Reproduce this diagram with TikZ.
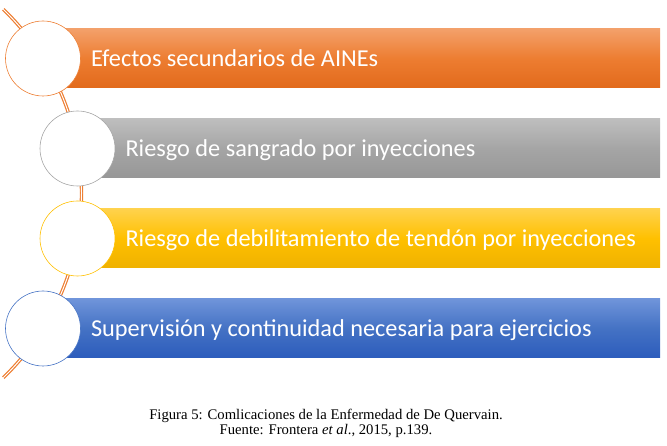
\documentclass[tikz,border=0pt]{standalone}
\usepackage{fontspec}
\setmainfont{Liberation Serif}
\newfontfamily\barfont{Carlito}
\definecolor{naranja}{HTML}{ED7D31}
\definecolor{naranjaA}{HTML}{F3A06A}
\definecolor{naranjaB}{HTML}{E26A1C}
\definecolor{gris}{HTML}{A5A5A5}
\definecolor{grisA}{HTML}{BEBEBE}
\definecolor{grisB}{HTML}{979797}
\definecolor{oro}{HTML}{FFC000}
\definecolor{oroA}{HTML}{FFD24C}
\definecolor{oroB}{HTML}{EFB100}
\definecolor{azul}{HTML}{4472C4}
\definecolor{azulA}{HTML}{6F94DA}
\definecolor{azulB}{HTML}{2C5CBC}
\begin{document}
\begin{tikzpicture}[x=1pt, y=-1pt,
  bullet/.style={circle, draw, fill=white, line width=0.6pt, minimum size=75pt, inner sep=0pt},
  bartext/.style={anchor=base west, text=white, inner sep=0pt, font=\barfont\fontsize{24.3}{29}\selectfont},
  captext/.style={anchor=base, inner sep=0pt, font=\fontsize{14.7}{17}\selectfont}]
\useasboundingbox (0,0) rectangle (667,446);
% arco de fondo
\draw[naranja, line width=1.2pt, double=white, double distance=1pt]
  (-174.5,193.5) ++(-46:256) arc[start angle=-46, end angle=46, radius=256];
% barras, circulos y textos
\foreach \n/\cx/\cy/\col/\txt in {
  1/43/58.5/naranja/Efectos secundarios de AINEs,
  2/77.5/148.5/gris/Riesgo de sangrado por inyecciones,
  3/77.5/238.5/oro/Riesgo de debilitamiento de tendón por inyecciones,
  4/43/328.5/azul/Supervisión y continuidad necesaria para ejercicios} {
  \shade[top color=\col A, bottom color=\col B, middle color=\col]
    (\cx,\cy-29.5) rectangle (660,\cy+29.5);
  \node[bullet, draw=\col] (c\n) at (\cx,\cy) {};
  \node[bartext] (t\n) at ([xshift=10pt]c\n.east |- 0,\cy+8) {\txt};
}
\node[captext] (cap1) at (326,419) {Figura 5: Comlicaciones de la Enfermedad de De Quervain.};
\node[captext] (cap2) at (326,435) {Fuente: Frontera \textit{et al}., 2015, p.139.};
\end{tikzpicture}
\end{document}
